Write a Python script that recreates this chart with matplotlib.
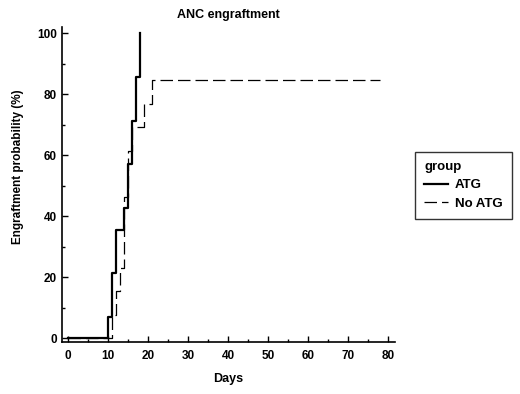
import matplotlib
matplotlib.use("Agg")
import matplotlib.pyplot as plt
from matplotlib.ticker import MultipleLocator

# Kaplan-Meier style step curves
atg_days = [0, 10, 11, 12, 14, 15, 16, 17, 18]
atg_prob = [0, 7.1, 21.4, 35.7, 42.9, 57.1, 71.4, 85.7, 100]

no_atg_days = [0, 11, 12, 13, 14, 15, 16, 19, 21, 78]
no_atg_prob = [0, 7.7, 15.4, 23.1, 46.2, 61.5, 69.2, 76.9, 84.6, 84.6]

x_ticks = [0, 10, 20, 30, 40, 50, 60, 70, 80]
y_ticks = [0, 20, 40, 60, 80, 100]


def main():
    plt.rcParams['font.family'] = ['Liberation Sans', 'DejaVu Sans']
    plt.rcParams['font.weight'] = 'bold'

    fig = plt.figure(figsize=(5.2, 3.94), dpi=100)
    ax = fig.add_axes([0.119, 0.132, 0.640, 0.800])

    ax.step(atg_days, atg_prob, where='post', color='black', lw=1.6, label='ATG')
    ax.step(no_atg_days, no_atg_prob, where='post', color='black', lw=0.9,
            dashes=(10, 4), label='No ATG')

    ax.set_xlim(-1.6, 81.7)
    ax.set_ylim(-1.2, 102.2)
    ax.set_xticks(x_ticks)
    ax.set_yticks(y_ticks)
    ax.xaxis.set_minor_locator(MultipleLocator(5))
    ax.yaxis.set_minor_locator(MultipleLocator(10))
    ax.tick_params(which='major', direction='in', length=4, width=1, labelsize=8.5)
    ax.tick_params(axis='x', which='major', pad=6)
    ax.tick_params(which='minor', direction='in', length=2, width=1)

    for side in ['top', 'right']:
        ax.spines[side].set_visible(False)
    for side in ['left', 'bottom']:
        ax.spines[side].set_linewidth(1.2)

    ax.set_title('ANC engraftment', fontsize=9, fontweight='bold', pad=6)
    ax.set_xlabel('Days', fontsize=9, fontweight='bold')
    ax.set_ylabel('Engraftment probability (%)', fontsize=8.5, fontweight='bold')
    ax.yaxis.set_label_coords(-0.115, 0.555)
    ax.xaxis.set_label_coords(0.5, -0.098)

    leg = ax.legend(title='group', loc='upper left', bbox_to_anchor=(0.798, 0.614),
                    bbox_transform=fig.transFigure, fontsize=9.5, title_fontsize=9.5,
                    frameon=True, fancybox=False, edgecolor='black',
                    handlelength=1.8, handletextpad=0.5, borderaxespad=0,
                    alignment='left', labelspacing=0.45, borderpad=0.7)
    leg.get_frame().set_linewidth(1.0)
    leg.get_title().set_fontweight('bold')

    fig.savefig('out.png', dpi=100)


if __name__ == '__main__':
    main()
